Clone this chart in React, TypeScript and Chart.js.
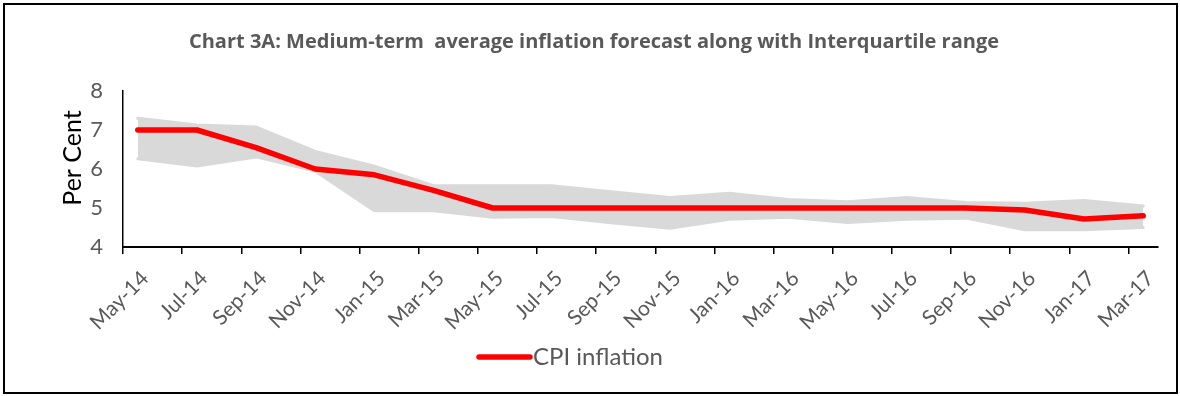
import React, { useEffect, useRef } from 'react';
import { Chart, registerables } from 'chart.js';

Chart.register(...registerables);

const categories = ['May-14', 'Jul-14', 'Sep-14', 'Nov-14', 'Jan-15', 'Mar-15', 'May-15', 'Jul-15', 'Sep-15', 'Nov-15', 'Jan-16', 'Mar-16', 'May-16', 'Jul-16', 'Sep-16', 'Nov-16', 'Jan-17', 'Mar-17'];
const cpiInflation = [7.0, 7.0, 6.55, 6.0, 5.85, 5.45, 5.0, 5.0, 5.0, 5.0, 5.0, 5.0, 5.0, 5.0, 5.0, 4.95, 4.72, 4.8];
const upperQuartile = [7.3, 7.13, 7.08, 6.45, 6.07, 5.57, 5.57, 5.57, 5.42, 5.27, 5.38, 5.22, 5.16, 5.27, 5.14, 5.12, 5.19, 5.05];
const lowerQuartile = [6.26, 6.08, 6.31, 5.95, 4.93, 4.93, 4.76, 4.78, 4.62, 4.48, 4.71, 4.76, 4.63, 4.71, 4.74, 4.44, 4.44, 4.5];
const yMin = 4;
const yMax = 8;
const yStep = 1;
const monthsPerCategory = 2;
const totalMonths = 35;

const TITLE = 'Chart 3A: Medium-term  average inflation forecast along with Interquartile range';
const Y_TITLE = 'Per Cent';
const FONT = 'Lato, "Open Sans", sans-serif';
const TITLE_FONT = '"Open Sans", Lato, sans-serif';

const toPoints = (arr: number[]) => arr.map((y, i) => ({ x: i * monthsPerCategory + 0.5, y }));

const overlayPlugin = {
  id: 'overlay',
  afterDraw(chart: any) {
    const { ctx, chartArea } = chart;
    ctx.save();
    // Y axis title
    ctx.save();
    ctx.translate(chartArea.left - 50, chartArea.top + 67);
    ctx.rotate(-Math.PI / 2);
    ctx.font = `25px ${FONT}`;
    ctx.fillStyle = '#000000';
    ctx.textAlign = 'center';
    ctx.textBaseline = 'middle';
    ctx.fillText(Y_TITLE, 0, 0);
    ctx.restore();
    // Legend
    const ds = chart.data.datasets[0];
    const ly = chartArea.bottom + 110;
    const lx = chartArea.left + 356;
    ctx.strokeStyle = ds.borderColor;
    ctx.lineWidth = 5.5;
    ctx.lineCap = 'round';
    ctx.beginPath();
    ctx.moveTo(lx, ly);
    ctx.lineTo(lx + 51, ly);
    ctx.stroke();
    ctx.font = `24px ${FONT}`;
    ctx.fillStyle = '#595959';
    ctx.textAlign = 'left';
    ctx.textBaseline = 'middle';
    ctx.fillText(ds.label, lx + 54, ly);
    ctx.restore();
  },
};

export default function App() {
  const ref = useRef<HTMLCanvasElement>(null);
  useEffect(() => {
    if (!ref.current) return;
    const chart = new Chart(ref.current, {
      type: 'line',
      data: {
        datasets: [
          {
            label: 'CPI inflation',
            data: toPoints(cpiInflation),
            borderColor: '#ff0000',
            backgroundColor: '#ff0000',
            borderWidth: 5.5,
            pointRadius: 0,
            borderCapStyle: 'round',
            borderJoinStyle: 'round',
            fill: false,
            tension: 0,
            order: 0,
          },
          {
            label: 'Upper quartile',
            data: toPoints(upperQuartile),
            borderColor: '#d9d9d9',
            backgroundColor: '#d9d9d9',
            borderWidth: 3,
            pointRadius: 0,
            borderCapStyle: 'round',
            fill: '+1',
            tension: 0,
            order: 1,
          },
          {
            label: 'Lower quartile',
            data: toPoints(lowerQuartile),
            borderColor: '#d9d9d9',
            backgroundColor: '#d9d9d9',
            borderWidth: 3,
            pointRadius: 0,
            borderCapStyle: 'round',
            fill: false,
            tension: 0,
            order: 2,
          },
        ],
      },
      options: {
        responsive: false,
        animation: false,
        devicePixelRatio: 1,
        layout: { padding: { left: 25, right: 18, top: 0, bottom: 45 } },
        plugins: {
          legend: { display: false },
          tooltip: { enabled: false },
          title: {
            display: true,
            text: TITLE,
            color: '#595959',
            font: { family: TITLE_FONT, size: 20, weight: 'bold' },
            padding: { top: 25, bottom: 37 },
          },
        },
        scales: {
          x: {
            type: 'linear',
            min: 0,
            max: totalMonths,
            afterBuildTicks: (s: any) => {
              s.ticks = categories.map((_, i) => ({ value: i * monthsPerCategory }));
            },
            afterFit: (s: any) => {
              s.height = 100;
            },
            ticks: {
              autoSkip: false,
              maxRotation: 45,
              minRotation: 45,
              color: '#595959',
              font: { family: FONT, size: 21 },
              labelOffset: 22,
              padding: 12,
              callback: (_v: any, i: number) => categories[i],
            },
            grid: {
              display: true,
              drawOnChartArea: false,
              drawTicks: true,
              tickLength: 7,
              color: '#000000',
              lineWidth: 1.5,
            },
            border: { display: true, color: '#000000', width: 2 },
          },
          y: {
            min: yMin,
            max: yMax,
            afterFit: (s: any) => {
              s.width = 93;
            },
            ticks: {
              stepSize: yStep,
              color: '#595959',
              font: { family: FONT, size: 22 },
              padding: 20,
            },
            grid: { display: false, drawTicks: false },
            border: { display: true, color: '#000000', width: 1.5 },
          },
        },
      },
      plugins: [overlayPlugin],
    } as any);
    return () => chart.destroy();
  }, []);

  return (
    <div
      style={{
        position: 'absolute',
        left: 3,
        top: 3,
        width: 1175,
        height: 391,
        border: '2px solid #000',
        boxSizing: 'border-box',
        background: '#fff',
      }}
    >
      <canvas ref={ref} width={1171} height={387} style={{ display: 'block' }} />
    </div>
  );
}
